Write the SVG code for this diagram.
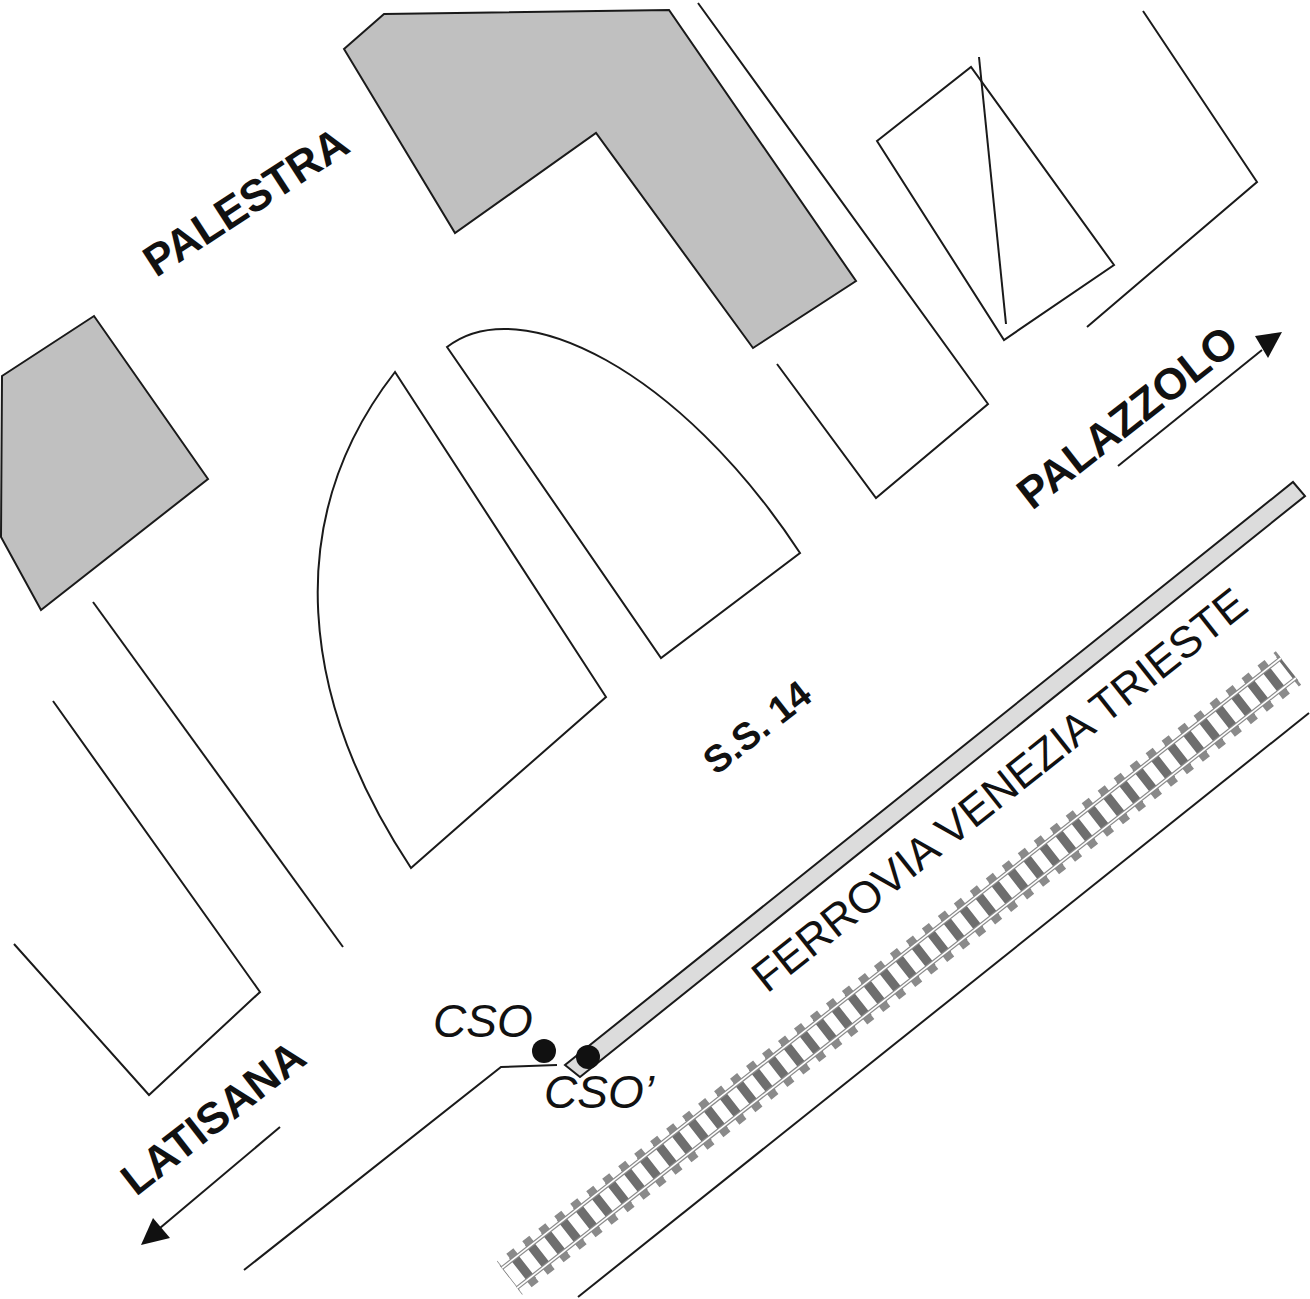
<svg xmlns="http://www.w3.org/2000/svg" width="1310" height="1299" viewBox="0 0 1310 1299">
<style>
.l{fill:none;stroke:#1a1a1a;stroke-width:2}
.g{fill:#c0c0c0;stroke:#1a1a1a;stroke-width:2}
.w{fill:#fff;stroke:#1a1a1a;stroke-width:2}
.b{font-family:"Liberation Sans",Arial,sans-serif;font-weight:700;fill:#111}
.t{font-family:"Liberation Sans",Arial,sans-serif;fill:#111}
.i{font-family:"Liberation Sans",Arial,sans-serif;font-style:italic;fill:#111}
</style>
<rect width="1310" height="1299" fill="#fff"/>
<g id="buildings">
<polygon class="g" points="344,49 384,14 669,10 856,281 753,348 596,133 455,233"/>
<polygon class="g" points="2,376 94,316 208,479 41,610 1,537"/>
</g>
<g id="blocks">
<polyline class="l" points="698,3 988,404 876,498 777,364"/>
<polygon class="w" points="877,141 971,67 1114,265 1004,340"/>
<line class="l" x1="979" y1="57" x2="1006" y2="324"/>
<polyline class="l" points="1143,11 1257,182 1087,327"/>
<path class="w" d="M447,347 C520,290 680,370 800,553 L661,658 Z"/>
<path class="w" d="M395,372 L606,697 L411,868 C300,700 280,520 395,372 Z"/>
<line class="l" x1="93" y1="602" x2="343" y2="947"/>
<polyline class="l" points="53,701 260,992 149,1095 14,944"/>
<polyline class="l" points="244,1270 501,1067 557,1065"/>
<line class="l" x1="578" y1="1297" x2="1309" y2="713"/>
</g>
<g id="arrows">
<line class="l" x1="1118" y1="466" x2="1262" y2="350"/>
<polygon fill="#111" points="1282,332 1268,358 1255,336"/>
<line class="l" x1="280" y1="1127" x2="160" y2="1228"/>
<polygon fill="#111" points="141,1245 153,1218 170,1238"/>
</g>
<g id="railway">
<line x1="509.5" y1="1278" x2="1288.5" y2="668" stroke="#6e6e6e" stroke-width="32" stroke-dasharray="9 11.3" stroke-dashoffset="-12"/>
<line x1="499" y1="1264" x2="1278" y2="654" stroke="#8a8a8a" stroke-width="7" stroke-dasharray="9 11.3" stroke-dashoffset="-12"/>
<line x1="520" y1="1292" x2="1299" y2="682" stroke="#8a8a8a" stroke-width="7" stroke-dasharray="9 11.3" stroke-dashoffset="-12"/>
<line x1="502" y1="1268" x2="1281" y2="658" stroke="#8a8a8a" stroke-width="4"/>
<line x1="517" y1="1288" x2="1296" y2="678" stroke="#8a8a8a" stroke-width="4"/>
<line x1="502" y1="1268" x2="1281" y2="658" stroke="#fff" stroke-width="1.6"/>
<line x1="517" y1="1288" x2="1296" y2="678" stroke="#fff" stroke-width="1.6"/>
</g>
<g id="canal">
<polygon fill="#dcdcdc" stroke="#1a1a1a" stroke-width="2" points="1293,482 1305,496 580,1077 565,1065"/>
</g>
<g id="cso-points">
<circle cx="544" cy="1051" r="12" fill="#111"/>
<circle cx="588" cy="1057" r="12" fill="#111"/>
</g>
<g id="labels">
<text class="b" font-size="44" transform="translate(156,278) rotate(-33)">PALESTRA</text>
<text class="b" font-size="44" transform="translate(1032,511) rotate(-38)">PALAZZOLO</text>
<text class="b" font-size="44" transform="translate(136,1197) rotate(-38)">LATISANA</text>
<text class="b" font-size="38" transform="translate(716,776) rotate(-38)">S.S. 14</text>
<text class="t" font-size="44" transform="translate(767,994) rotate(-38.5)">FERROVIA VENEZIA TRIESTE</text>
<text class="i" font-size="46" x="433" y="1037">CSO</text>
<text class="i" font-size="46" x="544" y="1108">CSO’</text>
</g>
</svg>
